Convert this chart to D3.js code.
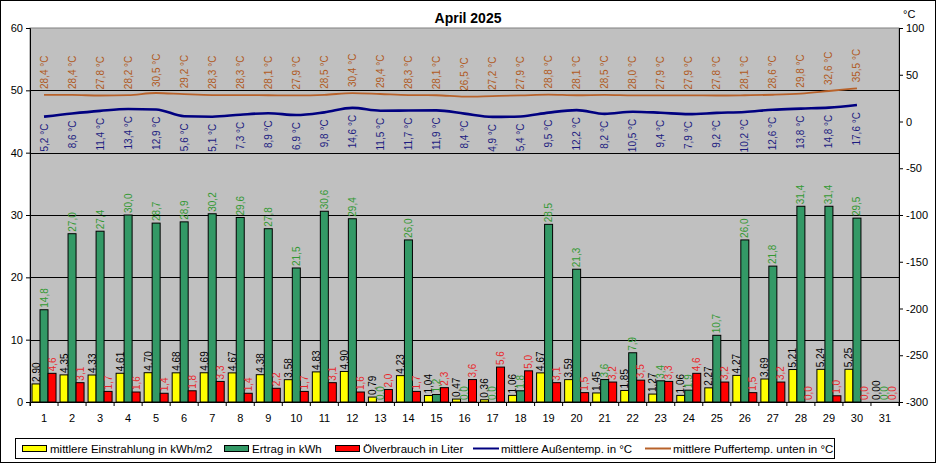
<!DOCTYPE html>
<html>
<head>
<meta charset="utf-8">
<script src="https://cdn.jsdelivr.net/npm/d3@7.9.0/dist/d3.min.js"></script>
<style>
  body { margin: 0; background: #fff; }
  svg { display: block; font-family: Arial, "Liberation Sans", sans-serif; }
</style>
</head>
<body>
<svg id="chart" width="936" height="463"></svg>
<script>
// Tage im April (31 bleibt leer)
const days = d3.range(1, 32);

const einstrahlung = [2.90, 4.35, 4.33, 4.61, 4.70, 4.68, 4.69, 4.67, 4.38, 3.58, 4.83, 4.90, 0.79, 4.23, 1.04,
  0.47, 0.36, 1.06, 4.67, 3.59, 1.45, 1.85, 1.27, 1.06, 2.27, 4.27, 3.69, 5.21, 5.24, 5.25, 0.00];
const ertrag = [14.8, 27.0, 27.4, 30.0, 28.7, 28.9, 30.2, 29.6, 27.8, 21.5, 30.6, 29.4, 0.0, 26.0, 1.2,
  0.0, 0.0, 1.8, 28.5, 21.3, 3.6, 7.9, 3.4, 1.9, 10.7, 26.0, 21.8, 31.4, 31.4, 29.5, 0.0];
const oel = [4.6, 3.1, 1.7, 1.6, 1.4, 1.8, 3.3, 1.4, 2.2, 1.7, 3.1, 1.6, 2.0, 1.7, 2.3,
  3.6, 5.6, 5.0, 3.1, 1.5, 3.2, 3.5, 3.3, 4.6, 3.2, 1.5, 3.2, 0.0, 1.0, 0.0, 0.0];

// Temperaturen nur Tag 1-30
const aussen = [5.2, 8.6, 11.4, 13.4, 12.9, 5.6, 5.1, 7.3, 8.9, 6.9, 9.8, 14.6, 11.5, 11.7, 11.9,
  8.4, 4.9, 5.4, 9.5, 12.2, 8.2, 10.5, 9.4, 7.9, 9.2, 10.2, 12.6, 13.8, 14.8, 17.6];
const puffer = [28.4, 28.4, 27.8, 28.2, 30.5, 29.2, 28.3, 28.3, 28.1, 27.9, 28.5, 30.4, 29.4, 28.3, 28.1,
  26.5, 27.2, 27.9, 28.8, 28.1, 28.5, 28.0, 27.9, 27.9, 27.8, 28.1, 28.6, 29.8, 32.6, 35.5];

const leftTicks = [0, 10, 20, 30, 40, 50, 60];
const rightTicks = [-300, -250, -200, -150, -100, -50, 0, 50, 100];

const fmt = (v, d) => v.toFixed(d).replace('.', ',');

const svg = d3.select('#chart');
const W = 936, H = 463;
const plot = { left: 30, right: 899, top: 28, bottom: 402 };

// Rahmen
svg.append('rect')
  .attr('x', 0.5).attr('y', 0.5)
  .attr('width', W - 1).attr('height', H - 1)
  .attr('fill', '#fff').attr('stroke', '#000');

const x = d3.scaleBand().domain(days).range([plot.left, plot.right]).paddingInner(0).paddingOuter(0);
const yL = d3.scaleLinear().domain([0, 60]).range([plot.bottom, plot.top]);
const yR = d3.scaleLinear().domain([-300, 100]).range([plot.bottom, plot.top]);

const series = [
  { name: 'mittlere Einstrahlung in kWh/m2', values: einstrahlung, fill: '#ffff00', text: '#000000', dec: 2 },
  { name: 'Ertrag in kWh', values: ertrag, fill: '#339966', text: '#339933', dec: 1 },
  { name: 'Ölverbrauch in Liter', values: oel, fill: '#ff0000', text: '#e8282c', dec: 1 }
];

const groupW = 24;
const xs = d3.scaleBand().domain(d3.range(series.length))
  .range([(x.bandwidth() - groupW) / 2, (x.bandwidth() + groupW) / 2]);

// Plotbereich
svg.append('rect')
  .attr('x', plot.left).attr('y', plot.top)
  .attr('width', plot.right - plot.left).attr('height', plot.bottom - plot.top)
  .attr('fill', '#c0c0c0').attr('stroke', '#808080');

// Gitterlinien
svg.append('g').selectAll('line')
  .data(leftTicks.filter(t => t > 0 && t < 60))
  .join('line')
  .attr('x1', plot.left).attr('x2', plot.right)
  .attr('y1', d => Math.round(yL(d)) + 0.5).attr('y2', d => Math.round(yL(d)) + 0.5)
  .attr('stroke', '#000');

// Achsen
const axL = svg.append('g')
  .attr('transform', `translate(${plot.left},0)`)
  .call(d3.axisLeft(yL).tickValues(leftTicks).tickSize(4).tickPadding(3).tickFormat(d => d));
const axR = svg.append('g')
  .attr('transform', `translate(${plot.right},0)`)
  .call(d3.axisRight(yR).tickValues(rightTicks).tickSize(4).tickPadding(3).tickFormat(d => d));
const axB = svg.append('g')
  .attr('transform', `translate(0,${plot.bottom})`)
  .call(d3.axisBottom(x).tickSize(4).tickPadding(8));
axB.selectAll('.tick line').attr('transform', `translate(${-x.bandwidth() / 2},0)`);
axB.append('line')
  .attr('x1', plot.right).attr('x2', plot.right).attr('y1', 0).attr('y2', 4)
  .attr('stroke', '#000');

[axL, axR, axB].forEach(a => {
  a.select('.domain').attr('stroke', '#000');
  a.selectAll('.tick line').attr('stroke', '#000');
  a.selectAll('text').attr('font-size', 11).attr('fill', '#000').attr('font-family', 'Arial, "Liberation Sans", sans-serif');
});

svg.append('text')
  .attr('x', 903).attr('y', 18)
  .attr('font-size', 11).text('°C');

// Balken
series.forEach((s, si) => {
  const g = svg.append('g');
  g.selectAll('rect')
    .data(s.values)
    .join('rect')
    .attr('x', (d, i) => x(days[i]) + xs(si))
    .attr('y', d => yL(d))
    .attr('width', xs.bandwidth())
    .attr('height', d => yL(0) - yL(d))
    .attr('fill', s.fill)
    .attr('stroke', '#000')
    .attr('stroke-width', 1);

  g.selectAll('text')
    .data(s.values)
    .join('text')
    .attr('transform', (d, i) => {
      const cx = x(days[i]) + xs(si) + xs.bandwidth() / 2;
      return `translate(${cx},${yL(d) - 2}) rotate(-90)`;
    })
    .attr('dy', '0.35em')
    .attr('font-size', 10)
    .attr('fill', s.text)
    .text(d => fmt(d, s.dec));
});

// Temperaturlinien
const cx = i => x(days[i]) + x.bandwidth() / 2;
const line = d3.line().x((d, i) => cx(i)).y(d => yR(d)).curve(d3.curveMonotoneX);

svg.append('path')
  .datum(puffer)
  .attr('d', line)
  .attr('fill', 'none')
  .attr('stroke', '#b8622a')
  .attr('stroke-width', 1.8);

svg.append('path')
  .datum(aussen)
  .attr('d', line)
  .attr('fill', 'none')
  .attr('stroke', '#000080')
  .attr('stroke-width', 2.6);

svg.append('g').selectAll('text')
  .data(puffer)
  .join('text')
  .attr('transform', (d, i) => `translate(${cx(i)},${yR(d) - 6}) rotate(-90)`)
  .attr('dy', '0.35em')
  .attr('font-size', 10)
  .attr('fill', '#b05a22')
  .text(d => fmt(d, 1) + ' °C');

svg.append('g').selectAll('text')
  .data(aussen)
  .join('text')
  .attr('transform', (d, i) => `translate(${cx(i)},${yR(d) + 7}) rotate(-90)`)
  .attr('dy', '0.35em')
  .attr('text-anchor', 'end')
  .attr('font-size', 10)
  .attr('fill', '#1c1c80')
  .text(d => fmt(d, 1) + ' °C');

// Titel
svg.append('text')
  .attr('x', 468).attr('y', 23)
  .attr('text-anchor', 'middle')
  .attr('font-size', 14).attr('font-weight', 'bold')
  .text('April 2025');

// Legende
const legend = svg.append('g');
legend.append('rect')
  .attr('x', 15.5).attr('y', 438.5).attr('width', 819).attr('height', 20)
  .attr('fill', '#fff').attr('stroke', '#000');

const legendItems = [
  { label: series[0].name, x: 22, type: 'box', color: series[0].fill },
  { label: series[1].name, x: 224, type: 'box', color: series[1].fill },
  { label: series[2].name, x: 335, type: 'box', color: series[2].fill },
  { label: 'mittlere Außentemp. in °C', x: 473, type: 'line', color: '#000080' },
  { label: 'mittlere Puffertemp. unten in °C', x: 645, type: 'line', color: '#b8622a' }
];

legendItems.forEach(it => {
  if (it.type === 'box') {
    legend.append('rect')
      .attr('x', it.x + 0.5).attr('y', 445.5).attr('width', 24).attr('height', 6)
      .attr('fill', it.color).attr('stroke', '#000');
  } else {
    legend.append('line')
      .attr('x1', it.x).attr('x2', it.x + 26).attr('y1', 448.5).attr('y2', 448.5)
      .attr('stroke', it.color).attr('stroke-width', 2);
  }
  legend.append('text')
    .attr('x', it.x + 28).attr('y', 452.5)
    .attr('font-size', 11.5)
    .text(it.label);
});
</script>
</body>
</html>
